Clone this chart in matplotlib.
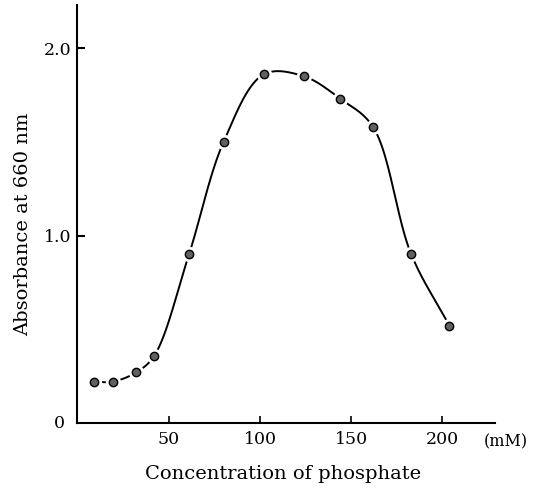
import numpy as np
import matplotlib
matplotlib.use("Agg")
import matplotlib.pyplot as plt

# Data
conc = [9, 19, 32, 42, 61, 80, 102, 124, 144, 162, 183, 204]
absorb = [0.22, 0.22, 0.27, 0.36, 0.90, 1.50, 1.86, 1.85, 1.73, 1.58, 0.90, 0.52]
xticks = [50, 100, 150, 200]
xticklabels = ["50", "100", "150", "200"]
yticks = [1.0, 2.0]
yticklabels = ["1.0", "2.0"]


def centripetal_cr(x, y, sx=1.82, sy=187.5, n=40, alpha=0.5):
    """Centripetal Catmull-Rom curve through the points (visual smoothing),
    computed in screen-like proportions and mapped back to data units."""
    P = np.column_stack([np.asarray(x, float) * sx, np.asarray(y, float) * sy])
    P = np.vstack([2 * P[0] - P[1], P, 2 * P[-1] - P[-2]])
    out = []
    for i in range(1, len(P) - 2):
        p0, p1, p2, p3 = P[i - 1], P[i], P[i + 1], P[i + 2]
        t0 = 0.0
        t1 = t0 + np.linalg.norm(p1 - p0) ** alpha
        t2 = t1 + np.linalg.norm(p2 - p1) ** alpha
        t3 = t2 + np.linalg.norm(p3 - p2) ** alpha
        t = np.linspace(t1, t2, n)[:, None]
        a1 = (t1 - t) / (t1 - t0) * p0 + (t - t0) / (t1 - t0) * p1
        a2 = (t2 - t) / (t2 - t1) * p1 + (t - t1) / (t2 - t1) * p2
        a3 = (t3 - t) / (t3 - t2) * p2 + (t - t2) / (t3 - t2) * p3
        b1 = (t2 - t) / (t2 - t0) * a1 + (t - t0) / (t2 - t0) * a2
        b2 = (t3 - t) / (t3 - t1) * a2 + (t - t1) / (t3 - t1) * a3
        c = (t2 - t) / (t2 - t1) * b1 + (t - t1) / (t2 - t1) * b2
        out.append(c)
    C = np.vstack(out)
    return C[:, 0] / sx, C[:, 1] / sy


plt.rcParams["font.family"] = ["DejaVu Serif"]

fig = plt.figure(figsize=(5.33, 4.88), dpi=100)
ax = fig.add_axes([77 / 533, 65 / 488, 418 / 533, 418 / 488])

xs, ys = centripetal_cr(conc, absorb)
ax.plot(xs, ys, color="black", lw=1.4, zorder=2)
ax.plot(conc, absorb, ls="none", marker="o", ms=10, mfc="white", mec="white", zorder=3)
ax.plot(conc, absorb, ls="none", marker="o", ms=6, mfc="#606060", mec="black", mew=1.0, zorder=4)

ax.set_xlim(-0.5, 229)
ax.set_ylim(0, 2.23)

for s in ["top", "right"]:
    ax.spines[s].set_visible(False)
for s in ["left", "bottom"]:
    ax.spines[s].set_linewidth(1.5)

ax.set_xticks(xticks)
ax.set_xticklabels(xticklabels)
ax.set_yticks(yticks)
ax.set_yticklabels(yticklabels)
ax.tick_params(axis="x", direction="in", length=5, width=1.2, pad=6, labelsize=12.5)
ax.tick_params(axis="y", direction="in", length=6, width=1.5, pad=4, labelsize=12.5)

ax.text(-0.03, 0, "0", transform=ax.get_yaxis_transform(), ha="right", va="center", fontsize=12.5)
ax.text(1.025, -0.045, "(mM)", transform=ax.transAxes, ha="center", va="center", fontsize=11.5)

fig.text(283 / 533, 1 - 474 / 488, "Concentration of phosphate", ha="center", va="center", fontsize=14)
fig.text(23 / 533, 1 - 224 / 488, "Absorbance at 660 nm", ha="center", va="center", rotation=90, fontsize=14)

fig.savefig("out.png", dpi=100)
